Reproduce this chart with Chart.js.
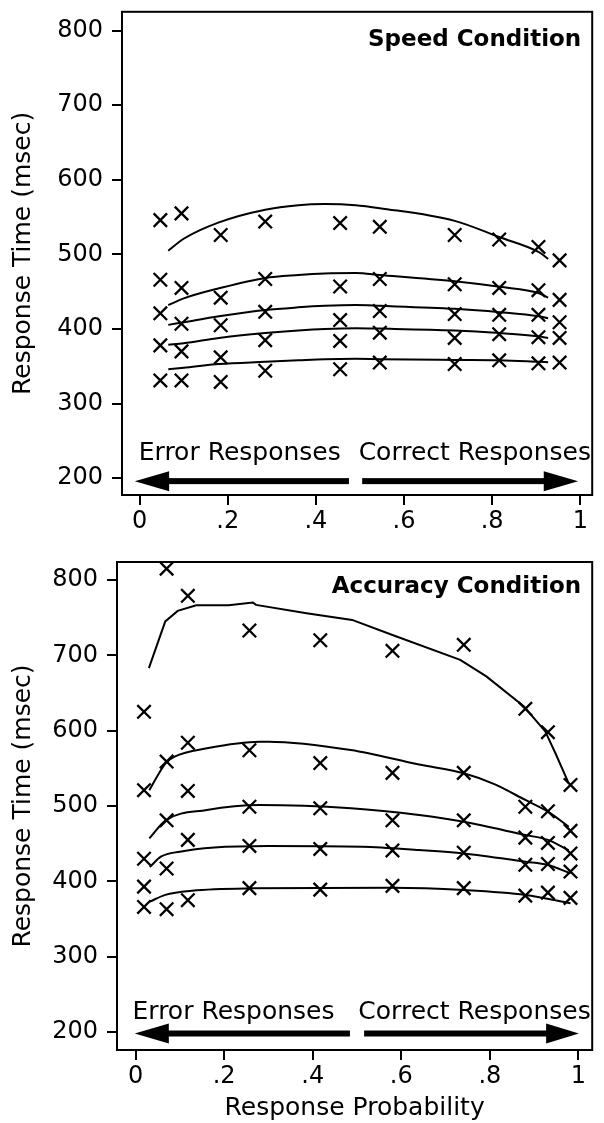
<!DOCTYPE html>
<html><head><meta charset="utf-8">
<script src="https://cdn.jsdelivr.net/npm/chart.js@4/dist/chart.umd.min.js"></script>
<style>
html,body{margin:0;padding:0;background:#fff;}
#wrap{position:relative;width:604px;height:1123px;overflow:hidden;}
canvas{position:absolute;left:0;}
</style></head><body>
<div id="wrap">
<canvas id="c1" width="604" height="545" style="top:0px"></canvas>
<canvas id="c2" width="604" height="578" style="top:545px"></canvas>
</div>
<script>
// ---------- DATA ----------
const xTickValues = [0, 0.2, 0.4, 0.6, 0.8, 1];
const yTickValues = [200, 300, 400, 500, 600, 700, 800];

// Speed condition: observed quantile RTs
const speedProb = [0.047, 0.095, 0.184, 0.285, 0.455, 0.545, 0.715, 0.816, 0.905, 0.953];
const speedQ90 = [546, 555, 526, 544, 542, 537, 526, 520, 510, 492];
const speedQ70 = [466, 455, 442, 467, 457, 467, 460, 455, 452, 439];
const speedQ50 = [421, 407, 405, 423, 412, 424, 420, 419, 419, 409];
const speedQ30 = [378, 370, 362, 385, 384, 395, 388, 393, 389, 388];
const speedQ10 = [331, 331, 329, 344, 346, 355, 353, 358, 354, 355];
// Speed condition: model curves
const speedFitProb = [0.065, 0.1, 0.18, 0.285, 0.36, 0.42, 0.49, 0.545, 0.715, 0.817, 0.906, 0.927];
const speedFit90 = [505, 521, 543, 560, 566, 567.5, 566, 562, 545, 523, 503, 494];
const speedFit70 = [432, 441, 454.5, 468.5, 472.5, 474.5, 475, 472.5, 464, 456.5, 448, 442];
const speedFit50 = [405.5, 409, 417, 425.5, 429, 431, 432, 431, 427, 422.5, 417, 414.5];
const speedFit30 = [379, 381, 388, 394.5, 398, 400, 401, 400.5, 398, 394.5, 390, 388];
const speedFit10 = [346, 348, 353, 356, 358, 359.5, 360, 359.5, 358.5, 358, 356, 355.5];

// Accuracy condition: observed quantile RTs
const accProb = [0.019, 0.07, 0.118, 0.257, 0.417, 0.58, 0.741, 0.88, 0.931, 0.982];
const accQ90 = [625, 815, 779, 733, 720, 706, 714, 629, 598, 528];
const accQ70 = [521, 559, 584, 574, 557, 544, 544, 499, 493, 467];
const accQ50 = [430, 481, 520, 499, 497, 481, 481, 458, 451, 437];
const accQ30 = [393, 417, 455, 447, 443, 441, 438, 422, 423, 413];
const accQ10 = [366, 363, 375, 391, 389, 394, 391, 381, 385, 378];
// Accuracy condition: model curves
const accFit90Prob = [0.03, 0.067, 0.095, 0.137, 0.21, 0.265, 0.272, 0.386, 0.489, 0.58, 0.733, 0.792, 0.877, 0.925, 0.948, 0.978];
const accFit90 = [683, 745, 759, 766.5, 766.5, 770, 767, 756, 747, 727, 694, 672, 632, 599, 570, 530];
const accFit70Prob = [0.031, 0.068, 0.088, 0.161, 0.28, 0.30, 0.486, 0.64, 0.741, 0.81, 0.88, 0.931, 0.978];
const accFit70 = [521, 557, 565.5, 576.6, 585.4, 585.4, 574.3, 555, 543.4, 529, 508, 492.5, 472.5];
const accFit50Prob = [0.031, 0.068, 0.161, 0.28, 0.486, 0.64, 0.741, 0.88, 0.931, 0.978];
const accFit50 = [457, 481, 494.7, 501.3, 497, 488, 479, 461.5, 455, 441];
const accFit30Prob = [0.032, 0.058, 0.1, 0.178, 0.298, 0.512, 0.64, 0.741, 0.88, 0.931, 0.982];
const accFit30 = [419, 433, 439.4, 445, 447, 446, 441.6, 437, 426, 421.7, 410.7];
const accFit10Prob = [0.032, 0.067, 0.127, 0.257, 0.58, 0.741, 0.88, 0.982];
const accFit10 = [373, 382, 387.6, 390.7, 391.6, 388.5, 382, 371];

// ---------- HELPERS ----------
const INK = '#000';
const FONT = '"DejaVu Sans", "Liberation Sans", sans-serif';
const pts = (xs, ys) => xs.map((x, i) => ({x: x, y: ys[i]}));
const fmtX = v => (v === 0 ? '0' : v === 1 ? '1' : String(+v.toFixed(1)).replace(/^0\./, '.'));

function markerSet(xs, ys) {
  return {type: 'scatter', data: pts(xs, ys), showLine: false, pointStyle: 'crossRot',
    pointRadius: 9.5, pointBorderWidth: 2.3, pointBorderColor: INK, pointBackgroundColor: INK};
}
function curveSet(xs, ys, smooth) {
  return {type: 'line', data: pts(xs, ys), showLine: true, pointRadius: 0, borderColor: INK,
    borderWidth: 2, fill: false, tension: 0, cubicInterpolationMode: smooth ? 'monotone' : 'default'};
}

function drawArrow(ctx, tipX, baseX, endX, y, half, thick) {
  const dir = Math.sign(endX - tipX);
  ctx.fillRect(Math.min(baseX - dir, endX), y - thick / 2, Math.abs(endX - baseX) + 1, thick);
  ctx.beginPath();
  ctx.moveTo(tipX, y);
  ctx.lineTo(baseX, y - half);
  ctx.lineTo(baseX, y + half);
  ctx.closePath();
  ctx.fill();
}

const annotPlugin = {
  id: 'annot',
  afterDraw(chart, args, o) {
    const {ctx, chartArea: a, scales: {x, y}} = chart;
    ctx.save();
    ctx.fillStyle = INK; ctx.strokeStyle = INK;
    ctx.lineWidth = 2;
    ctx.strokeRect(a.left, a.top, a.right - a.left, a.bottom - a.top);
    ctx.font = 'bold 23px ' + FONT;
    ctx.textAlign = 'right'; ctx.textBaseline = 'alphabetic';
    ctx.fillText(o.title, a.right - 11, a.top + o.titleDy);
    ctx.font = '25px ' + FONT;
    ctx.textAlign = 'left';
    const ly = y.getPixelForValue(o.labelY);
    ctx.fillText('Error Responses', x.getPixelForValue(o.errX), ly);
    ctx.fillText('Correct Responses', x.getPixelForValue(o.corX), ly);
    const ay = y.getPixelForValue(o.arrowY);
    const A = o.arrow;
    drawArrow(ctx, x.getPixelForValue(A[0]), x.getPixelForValue(A[1]), x.getPixelForValue(A[2]), ay, 10, 6);
    drawArrow(ctx, x.getPixelForValue(A[5]), x.getPixelForValue(A[4]), x.getPixelForValue(A[3]), ay, 10, 6);
    ctx.restore();
  }
};

function zeroPad(s) { s.paddingTop = 0; s.paddingBottom = 0; s.paddingLeft = 0; s.paddingRight = 0; }

function makeChart(id, cfg) {
  return new Chart(document.getElementById(id), {
    type: 'scatter',
    data: {datasets: cfg.datasets},
    plugins: [annotPlugin],
    options: {
      responsive: false, animation: false, devicePixelRatio: 1,
      layout: {padding: {left: 0, right: 1, top: cfg.padTop, bottom: 0}},
      plugins: {legend: {display: false}, tooltip: {enabled: false}, annot: cfg.annot},
      scales: {
        x: {
          type: 'linear', min: cfg.xMin, max: cfg.xMax,
          afterBuildTicks: s => { s.ticks = xTickValues.map(v => ({value: v})); },
          afterFit: s => { s.height = cfg.xHeight; zeroPad(s); },
          ticks: {callback: v => fmtX(v), font: {family: FONT, size: 24}, color: INK, padding: 2, maxRotation: 0, autoSkip: false},
          grid: {drawOnChartArea: false, drawTicks: true, tickLength: 10, color: INK, lineWidth: 2},
          border: {display: false},
          title: cfg.xTitle ? {display: true, text: 'Response Probability', color: INK,
            font: {family: FONT, size: 25}, padding: {top: 0, bottom: 0}} : {display: false}
        },
        y: {
          type: 'linear', min: cfg.yMin, max: cfg.yMax,
          afterBuildTicks: s => { s.ticks = yTickValues.map(v => ({value: v})); },
          afterFit: s => { s.width = cfg.yWidth; zeroPad(s); },
          ticks: {font: {family: FONT, size: 24}, color: INK, padding: 9, autoSkip: false},
          grid: {drawOnChartArea: false, drawTicks: true, tickLength: 10, color: INK, lineWidth: 2},
          border: {display: false},
          title: {display: true, text: 'Response Time (msec)', color: INK,
            font: {family: FONT, size: 25}, padding: {top: 8, bottom: 0}}
        }
      }
    }
  });
}

makeChart('c1', {
  padTop: 8, xHeight: 50, yWidth: 122,
  xMin: -0.040, xMax: 1.027, yMin: 177.4, yMax: 825.3, xTitle: false,
  annot: {title: 'Speed Condition', titleDy: 34, labelY: 224, errX: -0.002, corX: 0.497, arrowY: 196,
    arrow: [-0.011, 0.067, 0.475, 0.505, 0.917, 0.995]},
  datasets: [
    curveSet(speedFitProb, speedFit90, true), curveSet(speedFitProb, speedFit70, true),
    curveSet(speedFitProb, speedFit50, true), curveSet(speedFitProb, speedFit30, true),
    curveSet(speedFitProb, speedFit10, true),
    markerSet(speedProb, speedQ90), markerSet(speedProb, speedQ70), markerSet(speedProb, speedQ50),
    markerSet(speedProb, speedQ30), markerSet(speedProb, speedQ10)
  ]
});

makeChart('c2', {
  padTop: 17, xHeight: 73, yWidth: 117,
  xMin: -0.042, xMax: 1.031, yMin: 176.1, yMax: 823.9, xTitle: true,
  annot: {title: 'Accuracy Condition', titleDy: 31, labelY: 217, errX: -0.007, corX: 0.503, arrowY: 198,
    arrow: [-0.002, 0.075, 0.484, 0.516, 0.927, 1.001]},
  datasets: [
    curveSet(accFit90Prob, accFit90, false), curveSet(accFit70Prob, accFit70, true),
    curveSet(accFit50Prob, accFit50, true), curveSet(accFit30Prob, accFit30, true),
    curveSet(accFit10Prob, accFit10, true),
    markerSet(accProb, accQ90), markerSet(accProb, accQ70), markerSet(accProb, accQ50),
    markerSet(accProb, accQ30), markerSet(accProb, accQ10)
  ]
});
</script>
</body></html>
